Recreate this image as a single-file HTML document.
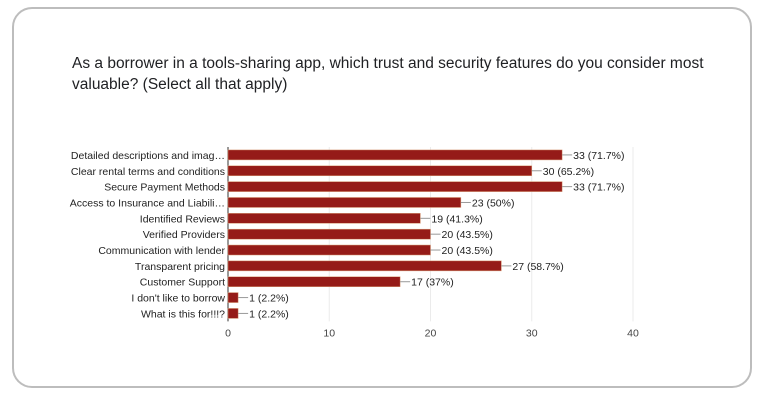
<!DOCTYPE html>
<html><head><meta charset="utf-8"><style>
body{margin:0;width:768px;height:400px;background:#fff;font-family:"Liberation Sans",sans-serif;overflow:hidden}
.card{position:absolute;left:12px;top:7px;width:740px;height:381px;border:2px solid #bdbdbd;border-radius:20px;box-sizing:border-box}
.title{position:absolute;left:72px;top:53px;font-size:15.5px;line-height:21px;color:#202124;width:650px}
svg{position:absolute;left:0;top:0}
</style></head><body>
<div class="card"></div>
<div class="title">As a borrower in a tools-sharing app, which trust and security features do you consider most valuable? (Select all that apply)</div>
<svg id="chart" width="768" height="400"></svg>
<script>
const categories=["Detailed descriptions and imag…","Clear rental terms and conditions","Secure Payment Methods","Access to Insurance and Liabili…","Identified Reviews","Verified Providers","Communication with lender","Transparent pricing","Customer Support","I don't like to borrow","What is this for!!!?"];
const values=[33,30,33,23,19,20,20,27,17,1,1];
const valueLabels=["33 (71.7%)","30 (65.2%)","33 (71.7%)","23 (50%)","19 (41.3%)","20 (43.5%)","20 (43.5%)","27 (58.7%)","17 (37%)","1 (2.2%)","1 (2.2%)"];
const ticks=[0,10,20,30,40];
const NS="http://www.w3.org/2000/svg";
const svg=document.getElementById('chart');
const x0=228,x1=633,yTop=147,rowH=15.85;
const xs=v=>x0+(v-ticks[0])/(ticks[ticks.length-1]-ticks[0])*(x1-x0);
const yc=i=>yTop+rowH*(i+0.5);
const yBottom=yTop+rowH*categories.length;
function mk(t,a){const e=document.createElementNS(NS,t);for(const k in a)e.setAttribute(k,a[k]);svg.appendChild(e);return e;}
ticks.forEach(t=>{
  const g=mk('line',{x1:xs(t),x2:xs(t),y1:yTop,y2:yBottom,stroke:t===0?'#333':'#ebebeb','stroke-width':1});
  
  
  const l=mk('text',{x:xs(t),y:yBottom+15,'text-anchor':'middle','font-size':'10.5',fill:'#444'});
  l.textContent=t;
  
  
});
categories.forEach((c,i)=>{
  const y=yc(i);
  const lab=mk('text',{x:x0-3,y:y+4,'text-anchor':'end','font-size':'10.5',fill:'#222'});
  lab.textContent=c;
  
  
  const b=mk('rect',{x:x0,y:y-5,width:xs(values[i])-x0,height:10,fill:'#951b18',stroke:'#d9a07a','stroke-width':0.5});
  
  
  const ln=mk('line',{x1:xs(values[i]),x2:xs(values[i])+10,y1:y,y2:y,stroke:'#999','stroke-width':1});
  
  
  const v=mk('text',{x:xs(values[i])+11,y:y+4,'font-size':'10.5',fill:'#222'});
  v.textContent=valueLabels[i];
  
  
});
</script>
</body></html>
